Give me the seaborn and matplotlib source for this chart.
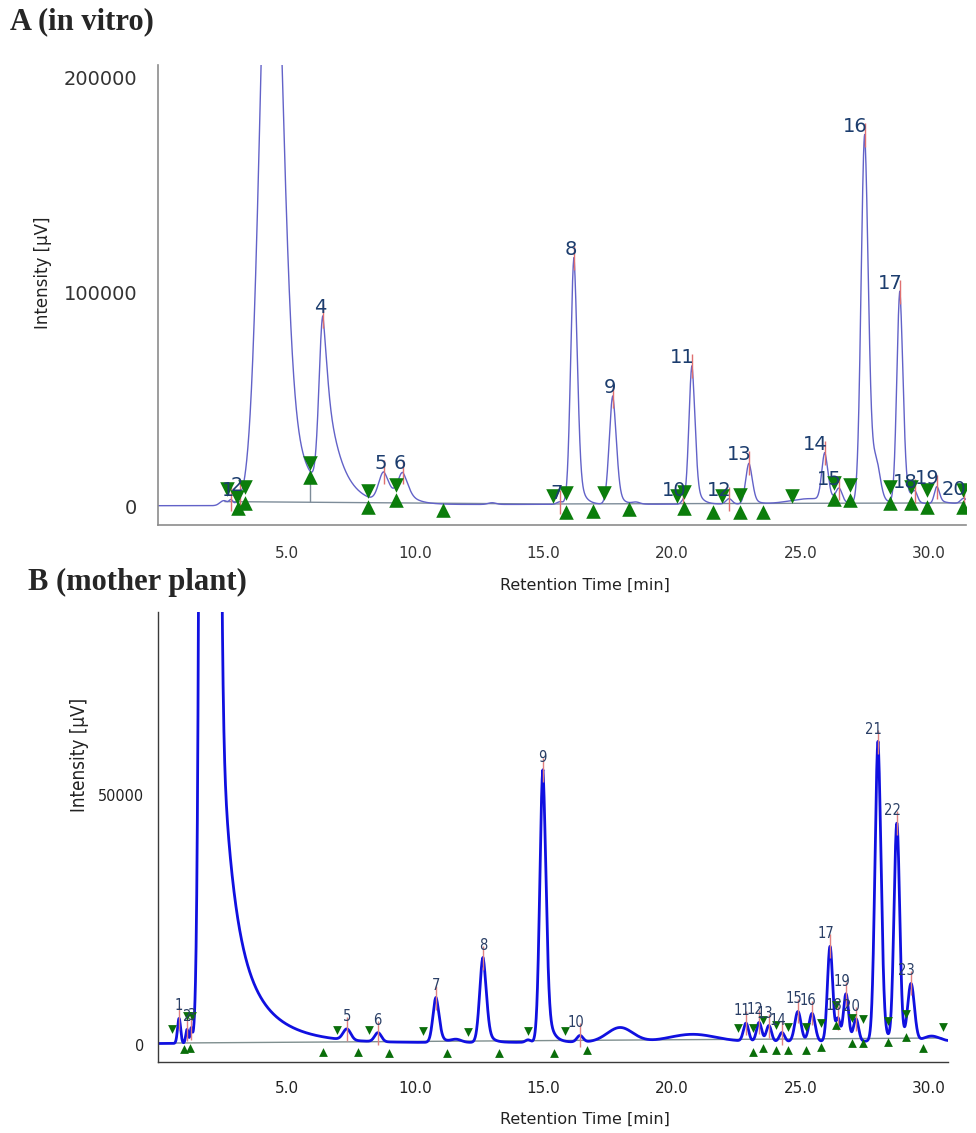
import numpy as np
import matplotlib
matplotlib.use("Agg")
import matplotlib.pyplot as plt
import seaborn as sns
from matplotlib.ticker import MultipleLocator

# ==============================
# Panel A (in vitro) - peak table
# ==============================
a_label = ["", "1", "2", "", "4", "5", "6", "", "7", "8", "9", "", "10", "11",
           "12", "13", "", "14", "15", "16", "", "17", "18", "19", "20"]
a_rt = [2.55, 2.84, 3.19, 4.42, 6.42, 8.79, 9.53, 13.0, 15.64, 16.19, 17.70, 18.6,
        20.43, 20.78, 22.22, 23.0, 25.4, 25.95, 26.5, 27.5, 27.95, 28.87, 29.45,
        30.31, 31.35]
a_height = [2000, 2000, 1200, 337000, 80000, 14000, 13000, 800, 1200, 115000, 50500,
            900, 1500, 64500, 2500, 19000, 2500, 22000, 6000, 172000, 14000, 99000,
            4500, 8000, 2500]
a_width = [0.15, 0.07, 0.07, 0.41, 0.15, 0.2, 0.2, 0.15, 0.12, 0.13, 0.14, 0.15,
           0.08, 0.12, 0.12, 0.13, 0.8, 0.12, 0.12, 0.14, 0.15, 0.12, 0.1, 0.1, 0.12]
a_tail = [0, 0, 0, 0.29, 0.8, 0.5, 0.5, 0, 0, 0.3, 0.3, 0, 0, 0.3, 0, 0.3, 0,
          0.3, 0, 0.25, 0, 0.3, 0, 0.3, 0]
a_tau = [1, 1, 1, 0.8, 0.55, 0.5, 0.4, 1, 1, 0.2, 0.2, 1, 1, 0.2, 1, 0.2, 1,
         0.2, 1, 0.25, 1, 0.2, 1, 0.3, 1]
a_base_t = [0, 2.3, 2.6, 31.5]
a_base_v = [600, 600, 1000, 1500]

# integration baseline + drop line
a_bl_t = [2.6, 15.0, 31.4]
a_bl_v = [2500, 1400, 1900]
a_drop_t = 5.91
a_drop_v = [2200, 16000]

# peak start / end markers
a_dn_t = [2.68, 3.07, 3.39, 5.91, 8.17, 9.26, 15.37, 15.88, 17.35, 20.19, 20.47,
          21.95, 22.65, 24.67, 26.30, 26.93, 28.48, 29.30, 29.92, 31.32]
a_dn_v = [8400, 4700, 9300, 20500, 7500, 10300, 5100, 6500, 6500, 5100, 7000,
          5100, 5600, 5100, 11200, 10300, 9300, 9300, 7900, 7900]
a_up_t = [3.11, 3.39, 5.91, 8.17, 9.26, 11.09, 15.88, 16.93, 18.33, 20.47, 21.60,
          22.65, 23.54, 26.30, 26.93, 28.48, 29.30, 29.92, 31.32]
a_up_v = [-500, 1900, 14000, 0, 3300, -1400, -2300, -1900, -900, -500, -2300,
          -2300, -2300, 3700, 3300, 1900, 1900, 0, 0]

a_yticks = [0, 100000, 200000]
a_yticklabels = ["0", "100000", "200000"]

# ==============================
# Panel B (mother plant)
# ==============================
b_label = ["1", "2", "3", "", "", "", "5", "6", "7", "", "8", "", "9", "10", "", "",
           "11", "12", "13", "14", "15", "16", "17", "18", "19", "20", "21", "22",
           "23", ""]
b_rt = [0.82, 1.13, 1.29, 2.0, 2.3, 2.5, 7.35, 8.56, 10.82, 11.6, 12.65, 14.4, 14.98,
        16.42, 17.98, 20.8, 22.88, 23.39, 23.77, 24.28, 24.90, 25.45, 26.15, 26.46,
        26.77, 27.16, 28.02, 28.75, 29.30, 30.1]
b_height = [5000, 2800, 2800, 2.0e6, 55000, 25000, 2200, 1800, 9000, 600, 17000, 500,
            54500, 1300, 2900, 1500, 3600, 3800, 3200, 1800, 6000, 5600, 19000, 4500,
            9500, 4500, 60000, 43500, 11500, 1000]
b_width = [0.06, 0.05, 0.04, 0.17, 0.1, 0.15, 0.15, 0.13, 0.12, 0.2, 0.13, 0.1, 0.12,
           0.12, 0.5, 0.9, 0.1, 0.1, 0.1, 0.1, 0.12, 0.12, 0.1, 0.08, 0.1, 0.1, 0.12,
           0.11, 0.13, 0.3]
b_tail = [0, 0, 0, 0, 1, 1, 0, 0, 0.3, 0, 0.3, 0, 0.3, 0, 0, 0, 0, 0, 0, 0, 0, 0,
          0, 0, 0, 0, 0.2, 0, 0, 0]
b_tau = [1, 1, 1, 1, 0.45, 1.3, 1, 1, 0.2, 1, 0.2, 1, 0.2, 1, 1, 1, 1, 1, 1, 1, 1, 1,
         1, 1, 1, 1, 0.15, 1, 1, 1]
b_base_t = [0, 30.8]
b_base_v = [300, 800]

b_bl_t = [0.7, 30.5]
b_bl_v = [400, 1400]

b_dn_t = [0.54, 1.13, 1.32, 6.96, 8.21, 10.31, 12.06, 14.40, 15.84, 22.57, 23.15,
          23.54, 24.05, 24.51, 25.21, 25.80, 26.38, 27.00, 27.43, 28.40, 29.11, 30.54]
b_dn_v = [3200, 5800, 5800, 3000, 3000, 2800, 2600, 2800, 2800, 3400, 3400, 5000,
          4000, 3600, 3600, 4400, 8000, 5400, 5200, 4800, 6200, 3600]
b_up_t = [1.01, 1.25, 6.42, 7.78, 8.99, 11.25, 13.27, 15.41, 16.69, 23.15, 23.54,
          24.05, 24.51, 25.21, 25.80, 26.38, 27.00, 27.43, 28.40, 29.11, 29.77]
b_up_v = [-800, -600, -1400, -1400, -1600, -1600, -1600, -1600, -1000, -1400, -600,
          -1000, -1000, -1000, -400, 4000, 400, 400, 600, 1600, -600]

b_yticks = [0, 50000]
b_yticklabels = ["0", "50000"]

x_ticks = [5, 10, 15, 20, 25, 30]
x_ticklabels = ["5.0", "10.0", "15.0", "20.0", "25.0", "30.0"]


def build_trace(t, rts, heights, widths, tails, taus, base_t, base_v):
    """Sum of (tailing) gaussian peaks on top of a drifting baseline."""
    y = np.interp(t, base_t, base_v)
    for t0, h, s, f, tau in zip(rts, heights, widths, tails, taus):
        g = np.exp(-0.5 * ((t - t0) / s) ** 2)
        ex = np.where(t > t0, np.exp(-np.clip(t - t0, 0, None) / tau), g)
        y = y + h * ((1 - f) * g + f * ex)
    return y


sns.set_style("white")
plt.rcParams["font.family"] = ["DejaVu Sans"]
# panel B uses a condensed face
narrow = dict(family="DejaVu Sans", fontstretch="condensed")

fig = plt.figure(figsize=(9.76, 11.33), dpi=100)
axA = fig.add_axes([158 / 976, 1 - 525 / 1133, 808 / 976, 460 / 1133])
axB = fig.add_axes([158 / 976, 1 - 1062 / 1133, 790 / 976, 450 / 1133])

# ---------- Panel A ----------
tA = np.linspace(0, 31.44, 5000)
yA = build_trace(tA, a_rt, a_height, a_width, a_tail, a_tau, a_base_t, a_base_v)

sns.lineplot(x=a_bl_t, y=a_bl_v, ax=axA, color="#7d8c99", linewidth=1.0,
             estimator=None, sort=False)
axA.vlines(a_drop_t, a_drop_v[0], a_drop_v[1], color="#7d8c99", linewidth=1.0)
sns.lineplot(x=tA, y=yA, ax=axA, color="#6262c8", linewidth=1.0,
             estimator=None, sort=False)

for lab, t0 in zip(a_label, a_rt):
    if not lab:
        continue
    v = np.interp(t0, tA, yA)
    axA.vlines(t0, v - 5600, v + 5600, color="#e07070", linewidth=1.0, zorder=3)
    axA.annotate(lab, (t0, v), xytext=(3, 3), textcoords="offset pixels",
                 ha="right", va="baseline", fontsize=14, color="#1c3d6e",
                 annotation_clip=False, clip_on=True, zorder=6)

sns.scatterplot(x=a_dn_t, y=a_dn_v, ax=axA, marker="v", s=110, color="#0b7d0b",
                linewidth=0, zorder=5, legend=False)
sns.scatterplot(x=a_up_t, y=a_up_v, ax=axA, marker="^", s=110, color="#0b7d0b",
                linewidth=0, zorder=5, legend=False)

axA.set_xlim(0, 31.44)
axA.set_ylim(-8400, 206000)
axA.set_yticks(a_yticks)
axA.set_yticklabels(a_yticklabels)
axA.set_xticks(x_ticks)
axA.set_xticklabels(x_ticklabels)
axA.xaxis.set_minor_locator(MultipleLocator(1))
axA.yaxis.set_minor_locator(MultipleLocator(20000))
sns.despine(ax=axA)
for sp in ["left", "bottom"]:
    axA.spines[sp].set_color("#8c8c8c")
    axA.spines[sp].set_linewidth(1.2)
axA.tick_params(axis="both", which="both", direction="out", color="#8c8c8c",
                labelcolor="#333333", width=1.0)
axA.tick_params(axis="y", which="major", length=8, pad=7, labelsize=14)
axA.tick_params(axis="x", which="major", length=7, pad=8, labelsize=11)
axA.tick_params(axis="both", which="minor", length=4.3)
axA.set_xlabel("Retention Time [min]", fontsize=11.5, color="#222222")
axA.xaxis.set_label_coords(0.528, -0.115)
axA.set_ylabel("Intensity [µV]", fontsize=12, color="#222222", va="center")
axA.yaxis.set_label_coords(-0.142, 0.548)

# ---------- Panel B ----------
tB = np.linspace(0, 30.74, 5000)
yB = build_trace(tB, b_rt, b_height, b_width, b_tail, b_tau, b_base_t, b_base_v)

sns.lineplot(x=b_bl_t, y=b_bl_v, ax=axB, color="#7f8f8f", linewidth=1.0,
             estimator=None, sort=False)
sns.lineplot(x=tB, y=yB, ax=axB, color="#1010e0", linewidth=2.0,
             estimator=None, sort=False)

for lab, t0 in zip(b_label, b_rt):
    if not lab:
        continue
    v = np.interp(t0, tB, yB)
    axB.vlines(t0, v - 2400, v + 2400, color="#e08080", linewidth=1.0, zorder=3)
    axB.annotate(lab, (t0, v), xytext=(4, 8), textcoords="offset pixels",
                 ha="right", va="baseline", fontsize=10.5, color="#2a3f66",
                 annotation_clip=False, clip_on=True, zorder=6, **narrow)

sns.scatterplot(x=b_dn_t, y=b_dn_v, ax=axB, marker="v", s=40, color="#0a6e0a",
                linewidth=0, zorder=5, legend=False)
sns.scatterplot(x=b_up_t, y=b_up_v, ax=axB, marker="^", s=40, color="#0a6e0a",
                linewidth=0, zorder=5, legend=False)

axB.set_xlim(0, 30.74)
axB.set_ylim(-3400, 86600)
axB.set_yticks(b_yticks)
axB.set_yticklabels(b_yticklabels, **narrow)
axB.set_xticks(x_ticks)
axB.set_xticklabels(x_ticklabels)
axB.xaxis.set_minor_locator(MultipleLocator(1))
axB.yaxis.set_minor_locator(MultipleLocator(10000))
sns.despine(ax=axB)
for sp in ["left", "bottom"]:
    axB.spines[sp].set_color("#3a3a3a")
    axB.spines[sp].set_linewidth(1.0)
axB.tick_params(axis="both", which="both", direction="out", color="#3a3a3a",
                labelcolor="#222222", width=1.0)
axB.tick_params(axis="y", which="major", length=7, pad=3, labelsize=11.5)
axB.tick_params(axis="x", which="major", length=7, pad=6.5, labelsize=11)
axB.tick_params(axis="both", which="minor", length=3.6)
axB.set_xlabel("Retention Time [min]", fontsize=11.5, color="#222222")
axB.xaxis.set_label_coords(0.54, -0.111)
axB.set_ylabel("Intensity [µV]", fontsize=13.5, color="#222222", va="center",
               **narrow)
axB.yaxis.set_label_coords(-0.099, 0.682)

# panel titles
fig.text(10 / 976, 1 - 22 / 1133, "A (in vitro)", fontsize=22, fontweight="bold",
         family=["Liberation Serif", "DejaVu Serif"], ha="left", va="center")
fig.text(28 / 976, 1 - 582 / 1133, "B (mother plant)", fontsize=22,
         fontweight="bold", family=["Liberation Serif", "DejaVu Serif"],
         ha="left", va="center")

fig.savefig("out.png", dpi=100)
